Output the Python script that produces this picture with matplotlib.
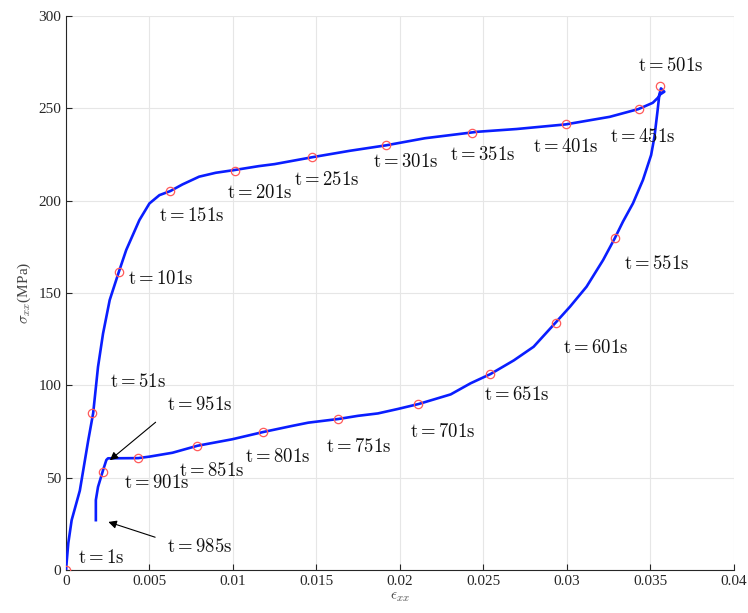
import matplotlib
matplotlib.use('Agg')
import matplotlib.pyplot as plt

plt.rcParams['mathtext.fontset'] = 'cm'
plt.rcParams['font.family'] = ['Liberation Serif', 'DejaVu Serif']

# stress-strain path (loading, then unloading)
strain = [0.0, 0.00014, 0.00034, 0.00083, 0.00133, 0.00163, 0.00192, 0.00222,
          0.00262, 0.00317, 0.00361, 0.0044, 0.005, 0.0056, 0.00625, 0.00698,
          0.00798, 0.00897, 0.0101, 0.01155, 0.0125, 0.0148, 0.017, 0.0192,
          0.0215, 0.02464, 0.027, 0.02994, 0.03258, 0.0343, 0.03516, 0.03552,
          0.03565, 0.03585, 0.03555, 0.03545, 0.03526, 0.03506, 0.03457,
          0.03397, 0.03337, 0.03288, 0.03218, 0.03119, 0.0302, 0.02935,
          0.02802, 0.02683, 0.02543, 0.02424, 0.02305, 0.02113, 0.01988,
          0.01869, 0.0175, 0.01633, 0.01452, 0.01353, 0.0118, 0.00996, 0.00788,
          0.00638, 0.005, 0.00433, 0.00282, 0.00252, 0.00242, 0.00222, 0.00192,
          0.00179, 0.00179]
stress = [0.0, 14.6, 27.0, 43.0, 70.0, 85.0, 110.0, 128.0,
          146.2, 161.5, 173.3, 189.5, 198.5, 203.0, 205.2, 208.8,
          213.0, 215.1, 216.6, 218.7, 219.8, 223.6, 227.0, 230.0,
          233.8, 237.3, 238.8, 241.3, 245.4, 249.6, 253.0, 256.2,
          260.8, 259.0, 257.2, 249.0, 234.6, 224.7, 211.2,
          198.5, 188.6, 179.6, 167.8, 153.4, 142.6, 134.1,
          120.9, 113.5, 106.1, 101.1, 95.1, 89.9, 87.2,
          84.8, 83.5, 81.8, 79.8, 78.0, 74.7, 70.8, 67.3,
          63.5, 61.4, 60.6, 60.5, 60.5, 59.6, 54.0, 45.0,
          37.9, 27.0]

# sampled points every 50 s
mark_strain = [0.0, 0.00155, 0.00317, 0.00625, 0.0101, 0.01476, 0.01917, 0.0243,
               0.02996, 0.03433, 0.03558, 0.03292, 0.02935, 0.02542, 0.02107,
               0.01631, 0.0118, 0.00788, 0.00433, 0.00222]
mark_stress = [0.0, 85.0, 161.5, 205.2, 216.3, 223.6, 230.0, 236.8,
               241.3, 249.6, 262.0, 179.6, 133.7, 106.1, 89.9,
               81.8, 74.7, 67.3, 60.6, 53.2]

labels = ['t=1s', 't=51s', 't=101s', 't=151s', 't=201s', 't=251s', 't=301s',
          't=351s', 't=401s', 't=451s', 't=501s', 't=551s', 't=601s',
          't=651s', 't=701s', 't=751s', 't=801s', 't=851s', 't=901s',
          't=951s', 't=985s']
label_x = [0.00071, 0.00262, 0.00369, 0.0056, 0.00964, 0.01369, 0.0184,
           0.023, 0.028, 0.0326, 0.0343, 0.03345, 0.02976, 0.02506, 0.0206,
           0.0156, 0.0107, 0.00679, 0.00345, 0.00607, 0.00607]
label_y = [6.5, 101.8, 157.5, 191.7, 204.0, 211.0, 221.0, 225.0, 229.0, 234.4,
           273.0, 165.7, 120.0, 94.7, 75.0, 66.6, 61.0, 53.6, 47.0, 89.3, 12.5]

fig = plt.figure(figsize=(7.48, 6.13), dpi=100)
ax = fig.add_axes([0.0882, 0.0701, 0.8925, 0.9038])

ax.plot(strain, stress, color='#0a1eff', lw=1.9, zorder=3)
ax.plot(mark_strain, mark_stress, 'o', mfc='none', mec='#ff5a5a', ms=6,
        mew=0.9, zorder=4)

for txt, lx, ly in zip(labels, label_x, label_y):
    ax.text(lx, ly, r'$\mathrm{' + txt + '}$', fontsize=13.5, va='center',
            ha='left', color='#111111', zorder=5)

# arrows for the last two labels
ax.annotate('', xy=(0.0025, 58.5), xytext=(0.0055, 81),
            arrowprops=dict(arrowstyle='-|>', color='black', lw=0.8,
                            mutation_scale=12))
ax.annotate('', xy=(0.00238, 26.5), xytext=(0.0055, 17.3),
            arrowprops=dict(arrowstyle='-|>', color='black', lw=0.8,
                            mutation_scale=12))

ax.set_xlim(0, 0.04)
ax.set_ylim(0, 300)
ax.set_xticks([0, 0.005, 0.01, 0.015, 0.02, 0.025, 0.03, 0.035, 0.04])
ax.set_xticklabels(['0', '0.005', '0.01', '0.015', '0.02', '0.025', '0.03',
                    '0.035', '0.04'])
ax.set_yticks([0, 50, 100, 150, 200, 250, 300])
ax.grid(True, color='#e6e6e6', lw=0.8)
ax.set_axisbelow(True)
ax.tick_params(direction='in', length=4, labelsize=11, colors='#262626')
ax.spines['top'].set_visible(False)
ax.spines['right'].set_visible(False)
ax.spines['left'].set_color('#262626')
ax.spines['bottom'].set_color('#262626')

ax.set_xlabel(r'$\epsilon_{xx}$', fontsize=11, color='#444444', labelpad=2)
ax.set_ylabel(r'$\sigma_{xx}$(MPa)', fontsize=11, color='#444444', labelpad=4)

fig.savefig('out.png', dpi=100)
